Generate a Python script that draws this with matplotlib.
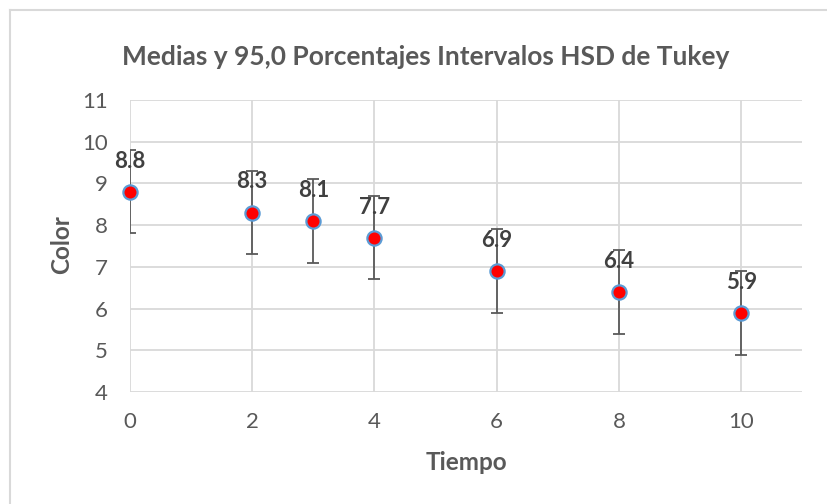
import matplotlib.pyplot as plt
from matplotlib.lines import Line2D

# Medias por tiempo con intervalos HSD de Tukey (±1)
tiempo = [0, 2, 3, 4, 6, 8, 10]
medias = [8.8, 8.3, 8.1, 7.7, 6.9, 6.4, 5.9]
error = [1.0, 1.0, 1.0, 1.0, 1.0, 1.0, 1.0]
etiquetas = ["8.8", "8.3", "8.1", "7.7", "6.9", "6.4", "5.9"]

x_ticks = [0, 2, 4, 6, 8, 10]
y_ticks = [4, 5, 6, 7, 8, 9, 10, 11]

plt.rcParams['font.family'] = ['Lato', 'DejaVu Sans']

GRIS = '#595959'
GRID = '#D9D9D9'

fig = plt.figure(figsize=(8.28, 5.04), dpi=100)
ax = fig.add_axes([0.157, 0.222, 0.812, 0.580])

ax.errorbar(tiempo, medias, yerr=error, fmt='none', ecolor=GRIS,
            elinewidth=1.3, capsize=4.5, capthick=1.3, zorder=3)
ax.scatter(tiempo, medias, s=105, color='#FF0000', edgecolor='#5B9BD5',
           linewidth=1.6, zorder=4, clip_on=False)

for x, y, t in zip(tiempo, medias, etiquetas):
    ax.annotate(t, (x, y), xytext=(0, 22), textcoords='offset points',
                ha='center', va='center', fontsize=16, fontweight='bold',
                color='#404040', zorder=5)

ax.set_xlim(0, 11)
ax.set_ylim(4, 11)
ax.set_xticks(x_ticks)
ax.set_yticks(y_ticks)
ax.grid(True, color=GRID, linewidth=1.3, zorder=0)
ax.set_axisbelow(True)
for s in ax.spines.values():
    s.set_visible(False)
ax.tick_params(length=0, labelsize=16, labelcolor=GRIS)
ax.tick_params(axis='y', pad=16)
ax.tick_params(axis='x', pad=14)

fig.text(0.563, 0.083, 'Tiempo', ha='center', va='center',
         fontsize=17.5, fontweight='bold', color=GRIS)
fig.text(0.075, 0.514, 'Color', ha='center', va='center', rotation=90,
         fontsize=17.5, fontweight='bold', color=GRIS)
fig.text(0.514, 0.887, 'Medias y 95,0 Porcentajes Intervalos HSD de Tukey',
         ha='center', va='center', fontsize=19, fontweight='bold', color=GRIS)

# borde del área del gráfico
fig.add_artist(Line2D([0.012, 0.012], [0, 0.98], transform=fig.transFigure,
                      color=GRID, linewidth=1.5))
fig.add_artist(Line2D([0.012, 1.0], [0.98, 0.98], transform=fig.transFigure,
                      color=GRID, linewidth=1.5))

fig.savefig('out.png', dpi=100)
